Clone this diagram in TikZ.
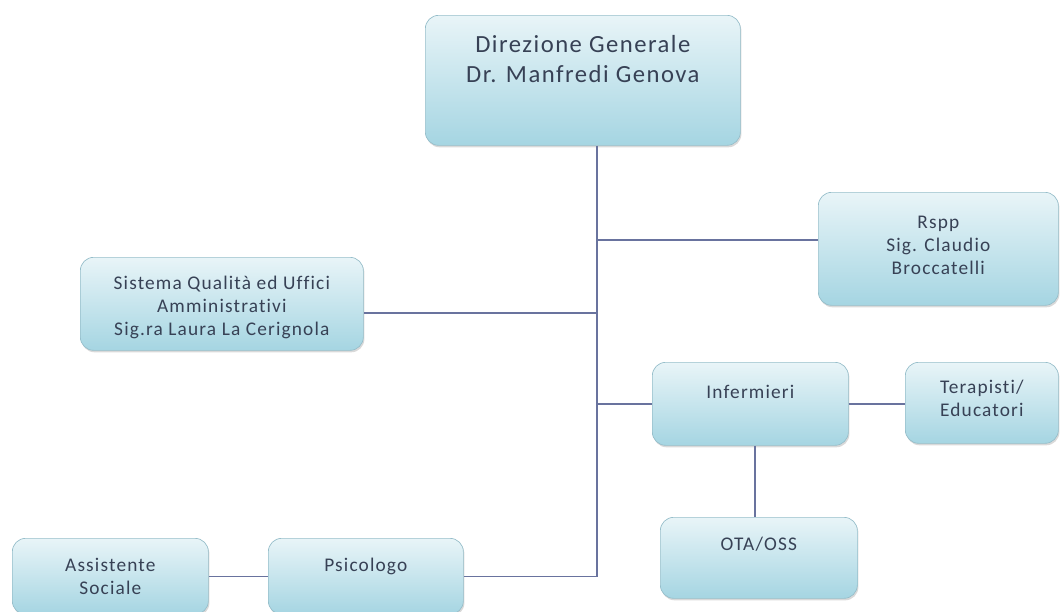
\documentclass[tikz,border=0pt]{standalone}
\usepackage{fontspec}
\setmainfont{Carlito}[Ligatures=NoCommon, LetterSpace=6]
\usetikzlibrary{positioning,shadows}

\definecolor{boxcyan}{RGB}{165,213,226}
\definecolor{boxedge}{RGB}{150,190,202}
\definecolor{linkblue}{RGB}{105,115,158}
\definecolor{txtgray}{RGB}{55,65,85}

\begin{document}
\begin{tikzpicture}[x=0.75pt, y=-0.75pt,
  % Box style (all units look the same)
  unit/.style={draw=boxedge, line width=0.5pt, rounded corners=10pt,
               top color=boxcyan!25, bottom color=boxcyan,
               drop shadow={opacity=0.3, shadow xshift=0.8pt, shadow yshift=-1.5pt},
               inner sep=0pt, anchor=north west},
  % Text style
  txt/.style={font=\fontsize{14.5}{17.3}\selectfont, text=txtgray, align=center, inner sep=2pt},
  big/.style={font=\fontsize{18.5}{22.5}\selectfont},
  % Connector style
  link/.style={draw=linkblue, line width=1pt},
]
\useasboundingbox (0,0) rectangle (1060,611);
\clip (0,0) rectangle (1060,611);

% === Top ===
\node[unit, minimum width=236.25pt, minimum height=97.5pt] (dg) at (425,15) {};
\node[txt, big, below=13pt of dg.north] (dgt) {Direzione Generale\\Dr. Manfredi Genova};

% === Staff ===
\node[unit, minimum width=180pt, minimum height=84.75pt] (rspp) at (818,192) {};
\node[txt, below=16pt of rspp.north] (rsppt) {Rspp\\Sig. Claudio\\Broccatelli};

\node[unit, minimum width=212.25pt, minimum height=69.75pt] (sq) at (80,257) {};
\node[txt, below=12pt of sq.north] (sqt) {Sistema Qualità ed Uffici\\Amministrativi\\Sig.ra Laura La Cerignola};

% === Care units ===
\node[unit, minimum width=147pt, minimum height=62.25pt] (inf) at (652,362) {};
\node[txt, below=15pt of inf.north] (inft) {Infermieri};

\node[unit, minimum width=114.75pt, minimum height=60.75pt] (tpe) at (905,362) {};
\node[txt, below=11pt of tpe.north] (tpet) {Terapisti/\\Educatori};

\node[unit, minimum width=147.75pt, minimum height=60.75pt] (ota) at (660,517) {};
\node[txt, below=13pt of ota.north] (otat) {OTA/OSS};

\node[unit, minimum width=147pt, minimum height=57pt] (ass) at (12,538) {};
\node[txt, below=13pt of ass.north] (asst) {Assistente\\Sociale};

\node[unit, minimum width=146.25pt, minimum height=57pt] (psi) at (268,538) {};
\node[txt, below=13pt of psi.north] (psit) {Psicologo};

% === Connectors ===
\coordinate (trunk) at (597,0);
\coordinate (jR) at (597,240);
\coordinate (jS) at (597,313);

\draw[link] (dg.south -| trunk) -- (psi.east -| trunk) -- (psi.east);
\draw[link] (jR) -- (rspp.west |- jR);
\draw[link] (jS) -- (sq.east |- jS);
\draw[link] (inf.west -| trunk) -- (inf.west);
\draw[link] (inf.east) -- (tpe.west |- inf.east);
\draw[link] ([xshift=3.5pt]inf.south) -- ([xshift=3.5pt]inf.south |- ota.north);
\draw[link] (ass.east) -- (psi.west);

\end{tikzpicture}
\end{document}
